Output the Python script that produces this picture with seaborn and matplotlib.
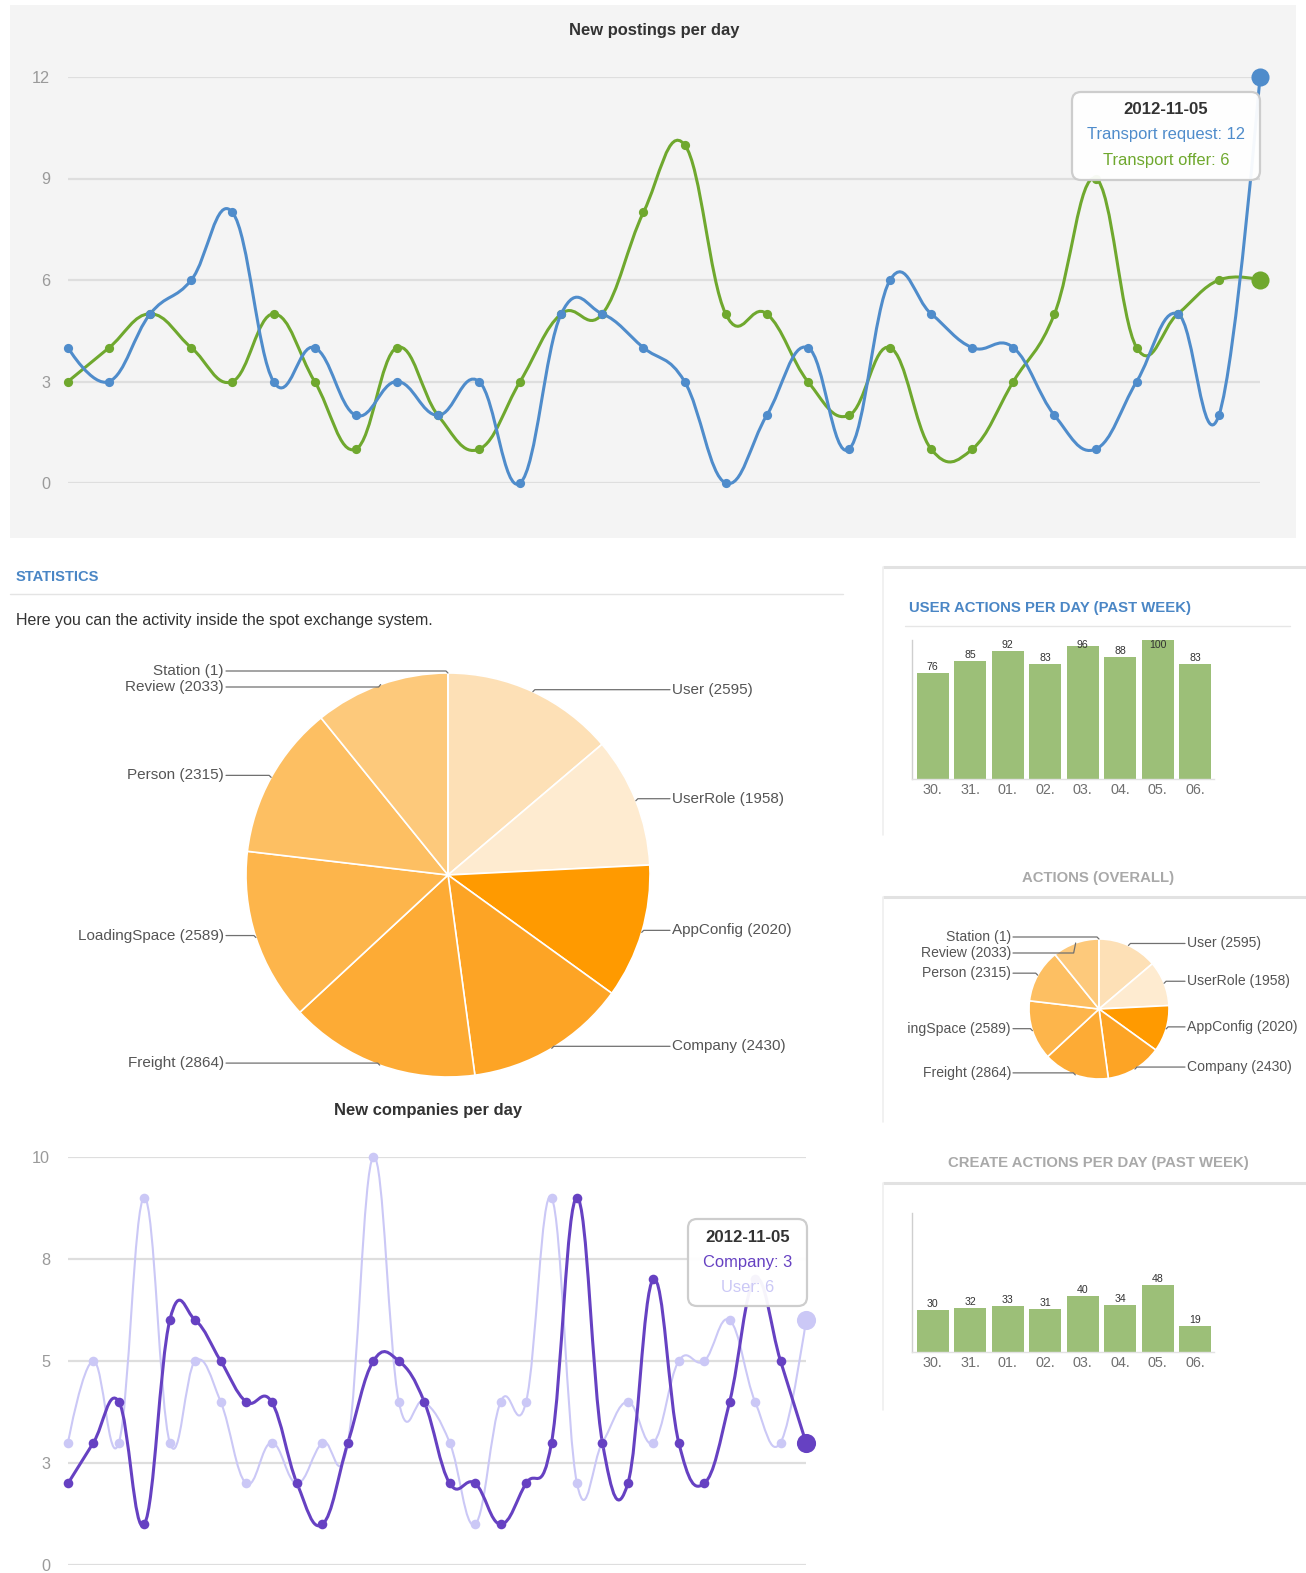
import numpy as np
import matplotlib
matplotlib.use("Agg")
import matplotlib.pyplot as plt
from matplotlib.path import Path
from matplotlib.patches import PathPatch, Rectangle, FancyBboxPatch
import seaborn as sns

# ---------------------------------------------------------------- data
day_index = list(range(30))
transport_request = [4, 3, 5, 6, 8, 3, 4, 2, 3, 2, 3, 0, 5, 5, 4, 3, 0, 2, 4, 1,
                     6, 5, 4, 4, 2, 1, 3, 5, 2, 12]
transport_offer = [3, 4, 5, 4, 3, 5, 3, 1, 4, 2, 1, 3, 5, 5, 8, 10, 5, 5, 3, 2,
                   4, 1, 1, 3, 5, 9, 4, 5, 6, 6]
new_companies = [2, 3, 4, 1, 6, 6, 5, 4, 4, 2, 1, 3, 5, 5, 4, 2, 2, 1, 2, 3,
                 9, 3, 2, 7, 3, 2, 4, 7, 5, 3]
new_users = [3, 5, 3, 9, 3, 5, 4, 2, 3, 2, 3, 3, 10, 4, 4, 3, 1, 4, 4, 9,
             2, 3, 4, 3, 5, 5, 6, 4, 3, 6]
last_date = "2012-11-05"

postings_ticks = [0, 3, 6, 9, 12]
companies_ticks = [0, 2.5, 5, 7.5, 10]
companies_tick_labels = ["0", "3", "5", "8", "10"]

week_days = ["30.", "31.", "01.", "02.", "03.", "04.", "05.", "06."]
user_actions = [76, 85, 92, 83, 96, 88, 100, 83]
create_actions = [30, 32, 33, 31, 40, 34, 48, 19]

entity_names = ["User", "UserRole", "AppConfig", "Company", "Freight",
                "LoadingSpace", "Person", "Review", "Station"]
entity_counts = [2595, 1958, 2020, 2430, 2864, 2589, 2315, 2033, 1]
entity_colors = ["#fde0b6", "#feebd0", "#ff9a00", "#fda425", "#fdab35",
                 "#fdb54b", "#fdbf62", "#fdc97b", "#fed292"]

# ---------------------------------------------------------------- style
BLUE = "#4f8ccb"
GREEN = "#6fa82e"
PURPLE = "#6641c2"
LILAC = "#cbc8f6"
BAR_GREEN = "#9cbf78"
HEAD_BLUE = "#4a86c5"
HEAD_GRAY = "#a9a9a9"

sns.set_style("white")
plt.rcParams["font.family"] = ["Liberation Sans", "DejaVu Sans"]

W, H = 1306, 1573
fig = plt.figure(figsize=(W / 100, H / 100), dpi=100)
fig.patch.set_facecolor("white")


def pt(px):
    return px * 0.72


def px_axes(x0, y0, x1, y1, zorder=1):
    ax = fig.add_axes([x0 / W, 1 - y1 / H, (x1 - x0) / W, (y1 - y0) / H], zorder=zorder)
    ax.patch.set_visible(False)
    return ax


def spline_path(xs, ys, smoothing=1.5):
    """Cubic Bezier spline through the points (Highcharts-like smoothing)."""
    n = len(xs)
    left, right = [None] * n, [None] * n
    for i in range(n):
        x, y = xs[i], ys[i]
        if 0 < i < n - 1:
            d = smoothing + 1
            lx = (smoothing * x + xs[i - 1]) / d
            ly = (smoothing * y + ys[i - 1]) / d
            rx = (smoothing * x + xs[i + 1]) / d
            ry = (smoothing * y + ys[i + 1]) / d
            corr = (ry - ly) * (rx - x) / (rx - lx) + y - ry
            left[i], right[i] = (lx, ly + corr), (rx, ry + corr)
        else:
            left[i] = right[i] = (x, y)
    verts = [(xs[0], ys[0])]
    codes = [Path.MOVETO]
    for i in range(1, n):
        verts += [right[i - 1], left[i], (xs[i], ys[i])]
        codes += [Path.CURVE4] * 3
    return Path(verts, codes)


def series(ax, values, color, lw, dot, big):
    ax.add_patch(PathPatch(spline_path(day_index, values), fill=False, edgecolor=color,
                           lw=lw, capstyle="round", joinstyle="round", zorder=2,
                           clip_on=False))
    sns.scatterplot(x=day_index, y=values, ax=ax, color=color, s=dot, linewidth=0,
                    zorder=3, clip_on=False, legend=False)
    sns.scatterplot(x=day_index[-1:], y=values[-1:], ax=ax, color=color, s=big,
                    linewidth=0, zorder=4, clip_on=False, legend=False)


def line_chart(ax, ymax, ticks, ticklabels):
    ax.set_xlim(0, len(day_index) - 1)
    ax.set_ylim(0, ymax)
    ax.set_yticks(ticks)
    ax.set_yticklabels(ticklabels)
    ax.set_xticks([])
    ax.grid(axis="y", color="#dedede", lw=1.6)
    ax.set_axisbelow(True)
    for s in ax.spines.values():
        s.set_visible(False)
    ax.tick_params(axis="y", length=0, pad=pt(18), labelsize=pt(16.2), labelcolor="#9a9a9a")
    ax.set_xlabel("")
    ax.set_ylabel("")


# ---------------------------------------------------------------- background layer
bg = px_axes(0, 0, W, H, zorder=0)
bg.set_xlim(0, W)
bg.set_ylim(H, 0)
bg.axis("off")
bg.add_patch(Rectangle((10, 5), 1286, 533, facecolor="#f4f4f4", edgecolor="none"))

bg.text(654, 30, "New postings per day", ha="center", va="center", fontsize=pt(16.5),
        fontweight="bold", color="#333333")
bg.text(16, 577, "STATISTICS", ha="left", va="center", fontsize=pt(14.8),
        fontweight="bold", color=HEAD_BLUE)
bg.plot([10, 843], [594, 594], color="#e4e4e4", lw=1)
bg.text(16, 621, "Here you can the activity inside the spot exchange system.", ha="left",
        va="center", fontsize=pt(16.0), color="#333333")
bg.text(428, 1110, "New companies per day", ha="center", va="center", fontsize=pt(16.5),
        fontweight="bold", color="#333333")

# right-hand boxes
for y_top, y_bot in ((567, 835), (897, 1122), (1183, 1410)):
    bg.plot([883, 1306], [y_top, y_top], color="#e2e2e2", lw=2.2, solid_capstyle="butt")
    bg.plot([883, 883], [y_top, y_bot], color="#efefef", lw=1.2)
bg.text(909, 608, "USER ACTIONS PER DAY (PAST WEEK)", ha="left", va="center",
        fontsize=pt(14.9), fontweight="bold", color=HEAD_BLUE)
bg.plot([905, 1290], [626, 626], color="#e6e6e6", lw=1)
bg.text(1098, 878, "ACTIONS (OVERALL)", ha="center", va="center", fontsize=pt(14.9),
        fontweight="bold", color=HEAD_GRAY)
bg.text(1098, 1163, "CREATE ACTIONS PER DAY (PAST WEEK)", ha="center", va="center",
        fontsize=pt(14.9), fontweight="bold", color=HEAD_GRAY)

# ---------------------------------------------------------------- new postings per day
ax_post = px_axes(68, 77, 1260, 483)
line_chart(ax_post, 12, postings_ticks, [str(t) for t in postings_ticks])
series(ax_post, transport_offer, GREEN, 2.2, 44, 170)
series(ax_post, transport_request, BLUE, 2.2, 44, 170)

# ---------------------------------------------------------------- new companies per day
ax_comp = px_axes(68, 1157, 806, 1565)
line_chart(ax_comp, 10, companies_ticks, companies_tick_labels)
series(ax_comp, new_users, LILAC, 1.5, 48, 190)
series(ax_comp, new_companies, PURPLE, 2.2, 48, 190)


# ---------------------------------------------------------------- bar charts
def bar_chart(box, values):
    ax = px_axes(*box)
    sns.barplot(x=week_days, y=values, ax=ax, color=BAR_GREEN, saturation=1,
                width=0.85, edgecolor="none")
    ax.set_xlim(-0.55, len(week_days) - 0.5)
    ax.set_ylim(0, 100)
    ax.set_yticks([])
    ax.set_xlabel("")
    ax.set_ylabel("")
    for side in ("top", "right"):
        ax.spines[side].set_visible(False)
    ax.spines["left"].set_color("#cfcfcf")
    ax.spines["bottom"].set_color("#e2e2e2")
    ax.spines["left"].set_linewidth(1)
    ax.spines["bottom"].set_linewidth(1)
    ax.tick_params(axis="x", length=0, pad=3, labelsize=pt(14.4), labelcolor="#707070")
    for i, v in enumerate(values):
        ax.text(i, min(v + 4.3, 96.4), str(v), ha="center", va="center",
                fontsize=pt(10.5), color="#333333", clip_on=False)
    return ax


bar_chart((912, 640, 1214, 779), user_actions)
bar_chart((912, 1213, 1214, 1352), create_actions)


# ---------------------------------------------------------------- pies
def pie_chart(box, center, r, gap, font_px, clip_left):
    x0, y0, x1, y1 = box
    cx, cy = center
    ax = px_axes(x0, y0, x1, y1)
    wedges, _ = ax.pie(entity_counts, colors=entity_colors, startangle=90,
                       counterclock=False, radius=r, center=(0, 0),
                       wedgeprops=dict(edgecolor="white", linewidth=1.2))
    ax.set_aspect("auto")
    ax.set_xlim(x0 - cx, x1 - cx)
    ax.set_ylim(cy - y1, cy - y0)
    ax.axis("off")

    labels = {1: [], -1: []}
    for w, name, cnt in zip(wedges, entity_names, entity_counts):
        a = np.deg2rad((w.theta1 + w.theta2) / 2)
        rx, ry = r * np.cos(a), r * np.sin(a)
        side = 1 if np.cos(a) > 1e-9 else -1
        labels[side].append([ry + 2, rx, ry, f"{name} ({cnt})"])
    for side, items in labels.items():
        items.sort(key=lambda t: -t[0])
        for k in range(1, len(items)):
            items[k][0] = min(items[k][0], items[k - 1][0] - 16)
        clip = clip_left and side < 0
        for ly, rx, ry, text in items:
            ax.plot([side * (r + gap - 2), rx + side * 2, rx], [ly, ly, ry],
                    color="#707070", lw=0.9, clip_on=clip)
            ax.text(side * (r + gap), ly, text, ha="left" if side > 0 else "right",
                    va="center", fontsize=pt(font_px), color="#555555", clip_on=clip)
    return ax


pie_chart((0, 640, 880, 1100), (448, 875), 202, 22, 15.2, False)
pie_chart((908, 915, 1306, 1100), (1099, 1009), 70, 18, 14.0, True)

# ---------------------------------------------------------------- tooltips
fg = px_axes(0, 0, W, H, zorder=10)
fg.set_xlim(0, W)
fg.set_ylim(H, 0)
fg.axis("off")


def tooltip(x, y, w, h, rows):
    fg.add_patch(FancyBboxPatch((x, y), w, h, boxstyle="round,pad=0,rounding_size=9",
                                facecolor="white", edgecolor="#cbcbcb", lw=1.6, alpha=0.95))
    cx = x + w / 2
    fg.text(cx, y + 18, last_date, ha="center", va="center", fontsize=pt(16.8),
            fontweight="bold", color="#333333")
    for k, (text, color) in enumerate(rows):
        fg.text(cx, y + 43 + 25 * k, text, ha="center", va="center", fontsize=pt(16.5),
                color=color)


tooltip(1072, 92, 188, 88, [(f"Transport request: {transport_request[-1]}", BLUE),
                            (f"Transport offer: {transport_offer[-1]}", GREEN)])
tooltip(688, 1219, 119, 87, [(f"Company: {new_companies[-1]}", PURPLE),
                            (f"User: {new_users[-1]}", LILAC)])

fig.savefig("out.png", dpi=100, facecolor="white")
